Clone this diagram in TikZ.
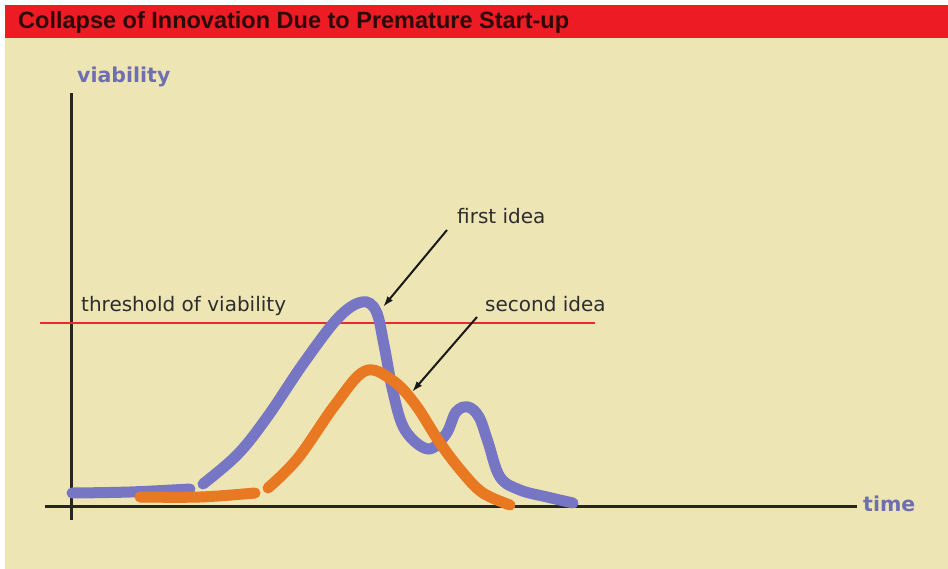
\documentclass[tikz,border=0pt]{standalone}
\usepackage{fontspec}
\setmainfont{DejaVu Sans}
\newfontfamily\titlefont{Liberation Sans}
\usepackage{xcolor}
\usepackage{tikz}
\usetikzlibrary{positioning,calc,arrows.meta}

\definecolor{titlered}{RGB}{237,28,36}
\definecolor{paper}{RGB}{238,229,180}
\definecolor{ideablue}{RGB}{118,118,196}
\definecolor{ideaorange}{RGB}{232,121,34}
\definecolor{axislabel}{RGB}{110,110,176}
\definecolor{textgray}{RGB}{45,45,45}
\definecolor{titleink}{RGB}{45,10,10}
\definecolor{limitred}{RGB}{230,45,45}

\begin{document}
\begin{tikzpicture}[x=1pt,y=-1pt,
    curve/.style={line width=11pt,line cap=round,smooth,tension=0.6},
    axis/.style={line width=3pt,black!85},
    pointer/.style={line width=2pt,black!90,-{Latex[length=11pt,width=7pt]}},
    lbl/.style={text=textgray,font=\fontsize{20}{24}\selectfont,inner sep=0pt,anchor=base west},
    axlbl/.style={text=axislabel,font=\bfseries\fontsize{20.5}{24}\selectfont,inner sep=0pt,anchor=base west}]
    \useasboundingbox (0,0) rectangle (948,569);
    \fill[white] (0,0) rectangle (948,569);
    \fill[paper] (5,38) rectangle (948,569);
    \fill[titlered] (5,5) rectangle (948,38);
    \node[anchor=base west,inner sep=0pt,text=titleink,font=\titlefont\bfseries\fontsize{23.5}{28}\selectfont] (title) at (18,29) {Collapse of Innovation Due to Premature Start-up};

    \coordinate (ytop) at (71,93);
    \coordinate (ybot) at (71,520);
    \coordinate (xleft) at (45,506);
    \coordinate (xright) at (857,506);
    \draw[axis] (ybot) -- (ytop);
    \draw[axis] (xleft) -- (xright);
    \node[axlbl] (ylabel) at (77,83) {viability};
    \node[axlbl] (xlabel) at (863,511) {time};

    \coordinate (thleft) at (40,323);
    \coordinate (thright) at (595,323);
    \draw[line width=2.5pt,limitred] (thleft) -- (thright);
    \node[lbl] (threshold) at (81,312) {threshold of viability};

    \draw[curve,ideablue] plot coordinates {(72,493) (130,492) (190,489)};
    \draw[curve,ideablue] plot coordinates {(203,484) (238,454) (268,416) (303,364) (338,318) (362,302) (376,311) (384,345) (393,392) (405,430) (428,449) (446,434) (456,412) (468,407) (479,417) (488,442) (500,477) (520,490) (547,497) (573,503)};
    \draw[curve,ideaorange] plot coordinates {(140,497) (200,497) (255,493)};
    \draw[curve,ideaorange] plot coordinates {(268,488) (298,458) (335,405) (365,371) (392,380) (415,404) (440,443) (463,473) (483,493) (510,505)};

    \node[lbl] (first) at (457,224) {first idea};
    \node[lbl] (second) at (485,312) {second idea};
    \coordinate (firsttail) at (447,230);
    \coordinate (firsthead) at (383,307);
    \coordinate (secondtail) at (477,317);
    \coordinate (secondhead) at (412,392);
    \draw[pointer] (firsttail) -- (firsthead);
    \draw[pointer] (secondtail) -- (secondhead);
\end{tikzpicture}
\end{document}
